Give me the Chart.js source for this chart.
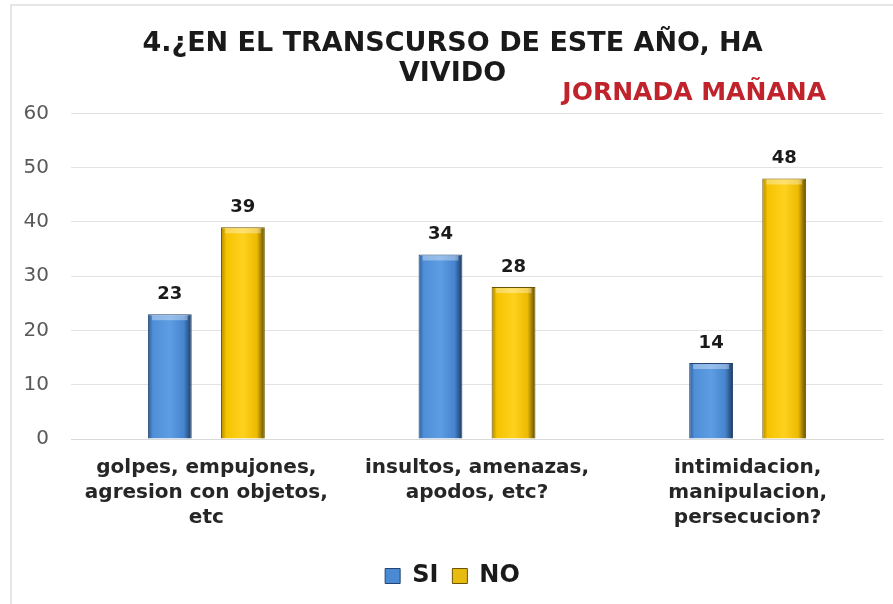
<!DOCTYPE html>
<html>
<head>
<meta charset="utf-8">
<script src="https://cdn.jsdelivr.net/npm/chart.js@4/dist/chart.umd.min.js"></script>
<style>
  html, body { margin: 0; padding: 0; background: #fff; }
  #wrap { position: relative; width: 893px; height: 604px; }
  #frame { position: absolute; left: 10px; top: 4px; right: 0; bottom: 0;
           border-top: 2px solid #e6e6e6; border-left: 2px solid #e6e6e6; pointer-events: none; }
</style>
</head>
<body>
<div id="wrap">
  <canvas id="chart" width="893" height="604"></canvas>
  <div id="frame"></div>
</div>
<script>
"use strict"

//Chart data
const categories = [
  ["golpes, empujones,", "agresion con objetos,", "etc"],
  ["insultos, amenazas,", "apodos, etc?"],
  ["intimidacion,", "manipulacion,", "persecucion?"]
];
const siValues = [23, 34, 14];
const noValues = [39, 28, 48];
const seriesNames = ["SI", "NO"];
const titleLines = ["4.¿EN EL TRANSCURSO DE ESTE AÑO, HA", "VIVIDO"];
const subtitleText = "JORNADA MAÑANA";
const yMin = 0;
const yMax = 60;
const yStep = 10;

const catPct = 0.54;
const barPct = 0.6;

//Horizontal gradient for each bar, so it looks like the rounded bars of the picture
function barFill(stops, solid, datasetIndex) {
  return function(ctx) {
    if (ctx.type !== "data") return solid;
    const chart = ctx.chart;
    const xs = chart.scales.x;
    if (!xs || !chart.chartArea) return solid;
    const catW = xs.width / categories.length;
    const slot = catW * catPct / 2;
    const center = xs.getPixelForValue(ctx.dataIndex) + (datasetIndex === 0 ? -slot / 2 : slot / 2);
    const half = slot * barPct / 2;
    const g = chart.ctx.createLinearGradient(center - half, 0, center + half, 0);
    stops.forEach(s => g.addColorStop(s[0], s[1]));
    return g;
  };
}

const blueStops = [[0, "#2f5d99"], [0.12, "#4f8fd8"], [0.5, "#5e9de1"], [0.82, "#4685cf"], [1, "#1e3a5f"]];
const goldStops = [[0, "#b08800"], [0.12, "#f5c300"], [0.5, "#ffd11f"], [0.82, "#ecba00"], [1, "#5e4a00"]];

//Light strip at the top of each bar, and the numbers above them
const valueLabels = {
  id: "valueLabels",
  afterDatasetsDraw(chart) {
    const c = chart.ctx;
    c.save();
    chart.data.datasets.forEach((ds, i) => {
      chart.getDatasetMeta(i).data.forEach(bar => {
        c.fillStyle = "rgba(255,255,255,0.35)";
        c.fillRect(bar.x - bar.width / 2 + 4, bar.y + 1, bar.width - 8, 5);
      });
    });
    c.font = "bold 18px 'DejaVu Sans'";
    c.fillStyle = "#1a1a1a";
    c.textAlign = "center";
    c.textBaseline = "middle";
    chart.data.datasets.forEach((ds, i) => {
      chart.getDatasetMeta(i).data.forEach((bar, j) => {
        c.fillText(ds.data[j], bar.x, bar.y - 20);
      });
    });
    c.restore();
  }
};

//Red text on the right under the title
const jornada = {
  id: "jornada",
  afterDraw(chart) {
    const c = chart.ctx;
    c.save();
    c.font = "bold 25px 'DejaVu Sans'";
    c.fillStyle = "#c0232b";
    c.textAlign = "right";
    c.textBaseline = "middle";
    c.fillText(subtitleText, chart.chartArea.right - 57, chart.chartArea.top - 20);
    c.restore();
  }
};

const data = {
  labels: categories,
  datasets: [
    {
      label: seriesNames[0],
      data: siValues,
      backgroundColor: barFill(blueStops, "#4a8ad4", 0),
      borderColor: "#24456e",
      borderWidth: 1,
      categoryPercentage: catPct,
      barPercentage: barPct
    },
    {
      label: seriesNames[1],
      data: noValues,
      backgroundColor: barFill(goldStops, "#f5c300", 1),
      borderColor: "#6b5500",
      borderWidth: 1,
      categoryPercentage: catPct,
      barPercentage: barPct
    }
  ]
};

const config = {
  type: "bar",
  data: data,
  plugins: [valueLabels, jornada],
  options: {
    responsive: false,
    animation: false,
    layout: { padding: { left: 22, right: 10, top: 8, bottom: 6 } },
    plugins: {
      title: {
        display: true,
        text: titleLines,
        color: "#1a1a1a",
        font: { family: "'DejaVu Sans'", size: 27, weight: "bold", lineHeight: 1.1 },
        padding: { top: 21, bottom: 25 }
      },
      legend: {
        position: "bottom",
        labels: {
          color: "#1a1a1a",
          font: { family: "'DejaVu Sans'", size: 24, weight: "bold" },
          boxWidth: 15,
          boxHeight: 15,
          padding: 14,
          generateLabels(chart) {
            const solid = [["#4a8ad4", "#24456e"], ["#e8bb10", "#6b5500"]];
            return chart.data.datasets.map((ds, i) => ({
              text: ds.label,
              fillStyle: solid[i][0],
              strokeStyle: solid[i][1],
              lineWidth: 1,
              fontColor: "#1a1a1a",
              datasetIndex: i,
              hidden: !chart.isDatasetVisible(i)
            }));
          }
        }
      },
      tooltip: { enabled: false }
    },
    scales: {
      x: {
        grid: { display: false },
        border: { color: "#d9d9d9" },
        afterFit(scale) { scale.height += 12; },
        ticks: {
          color: "#262626",
          font: { family: "'DejaVu Sans'", size: 20, weight: "bold", lineHeight: 1.25 },
          padding: 8,
          maxRotation: 0,
          autoSkip: false
        }
      },
      y: {
        min: yMin,
        max: yMax,
        grid: { color: "#e3e3e3", drawTicks: false },
        border: { display: false },
        afterFit(scale) { scale.width = 49; },
        ticks: {
          stepSize: yStep,
          color: "#595959",
          font: { family: "'DejaVu Sans'", size: 20 },
          padding: 22
        }
      }
    }
  }
};

const myChart = new Chart(document.getElementById("chart"), config);
</script>
</body>
</html>
